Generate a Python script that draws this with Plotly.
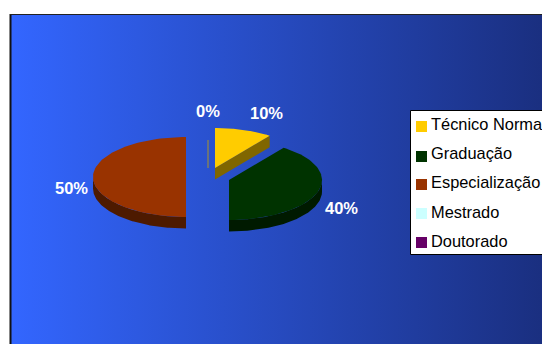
import numpy as np
import plotly.graph_objects as go

# Survey shares per qualification level
categories = ["Técnico Normal", "Graduação", "Especialização", "Mestrado", "Doutorado"]
values = [10, 40, 50, 0, 0]
top_colors = ["#FFCC00", "#003300", "#993300", "#CCFFFF", "#660066"]
wall_colors = ["#806600", "#001A00", "#4D1A00", "#7F7F60", "#7F7F60"]

# Drawing is laid out in canvas pixels
WIDTH, HEIGHT = 542, 344
RX, RY, DEPTH = 93, 40, 11.5
centers = [(215, 168), (229, 180), (186, 177), (208, 168), (208, 168)]
label_pos = [(266, 113), (341, 208), (71, 188), (208, 111), None]
ZERO_STUB = 0.7  # radial length of an empty slice, as a share of the radius


def rim(cx, cy, start, end, n=80):
    """Points on the tilted rim, with angles clockwise from twelve o'clock."""
    t = np.radians(np.linspace(start, end, n))
    return cx + RX * np.sin(t), cy - RY * np.cos(t)


def closed(xs, ys):
    return list(xs) + [xs[0]], list(ys) + [ys[0]]


fig = go.Figure()

# Chart area with its left-to-right blue ramp
fig.add_trace(go.Scatter(
    x=[11, WIDTH, WIDTH, 11, 11], y=[15, 15, HEIGHT, HEIGHT, 15],
    mode="lines", line=dict(width=0), fill="toself",
    fillgradient=dict(type="horizontal",
                      colorscale=[[0, "#3366FF"], [1, "#1A2F80"]]),
    hoverinfo="skip", showlegend=False,
))

total = sum(values)
angle = 0.0
for name, value, top, wall, (cx, cy) in zip(categories, values, top_colors, wall_colors, centers):
    start, end = angle, angle + 360 * value / total
    angle = end

    if value == 0:
        fig.add_trace(go.Scatter(
            x=[cx, cx + RX * np.sin(np.radians(start)) * ZERO_STUB],
            y=[cy, cy - RY * np.cos(np.radians(start)) * ZERO_STUB],
            mode="lines", line=dict(color=wall, width=1),
            hoverinfo="skip", showlegend=False,
        ))
        continue

    # Outer wall on the part of the rim that faces the viewer
    lo, hi = max(start, 90), min(end, 270)
    if lo < hi:
        ax, ay = rim(cx, cy, lo, hi)
        xs, ys = closed(np.r_[ax, ax[::-1]], np.r_[ay, ay[::-1] + DEPTH])
        fig.add_trace(go.Scatter(x=xs, y=ys, mode="lines", line=dict(width=0),
                                 fill="toself", fillcolor=wall,
                                 hoverinfo="skip", showlegend=False))

    # Cut face on the slice's closing edge when it turns toward the viewer
    if 0 < end < 180:
        ex, ey = rim(cx, cy, end, end, 1)
        xs, ys = closed([cx, ex[0], ex[0], cx], [cy, ey[0], ey[0] + DEPTH, cy + DEPTH])
        fig.add_trace(go.Scatter(x=xs, y=ys, mode="lines", line=dict(width=0),
                                 fill="toself", fillcolor=wall,
                                 hoverinfo="skip", showlegend=False))

    # Top face
    ax, ay = rim(cx, cy, start, end)
    xs, ys = closed(np.r_[cx, ax], np.r_[cy, ay])
    fig.add_trace(go.Scatter(x=xs, y=ys, mode="lines", line=dict(width=0),
                             fill="toself", fillcolor=top, name=name,
                             hoverinfo="skip", showlegend=False))

# Percentage labels
annotations = []
for value, pos in zip(values, label_pos):
    if pos is None:
        continue
    annotations.append(dict(
        x=pos[0], y=pos[1], text=f"<b>{round(100 * value / total)}%</b>", showarrow=False,
        font=dict(family="Liberation Sans", size=16.5, color="white"),
        xanchor="center", yanchor="middle",
    ))

# Legend box, swatches and entries
LEG_LEFT, LEG_TOP, LEG_BOTTOM = 410.5, 110.5, 254.5
row_y = [124, 153, 182, 212, 241]
swatch_top = [121, 151, 179, 208, 237]
shapes = [
    dict(type="rect", x0=LEG_LEFT, x1=WIDTH + 5, y0=LEG_TOP, y1=LEG_BOTTOM,
         fillcolor="white", line=dict(color="black", width=1), layer="above"),
    dict(type="line", x0=10.5, x1=10.5, y0=14, y1=HEIGHT,
         line=dict(color="#111111", width=2), layer="above"),
    dict(type="line", x0=10, x1=WIDTH, y0=14.5, y1=14.5,
         line=dict(color="#222222", width=1), layer="above"),
]
for name, color, y, sw in zip(categories, top_colors, row_y, swatch_top):
    shapes.append(dict(type="rect", x0=416, x1=427, y0=sw, y1=sw + 11,
                       fillcolor=color, line=dict(width=0), layer="above"))
    annotations.append(dict(
        x=429, y=y, text=name, showarrow=False, xanchor="left", yanchor="middle",
        font=dict(family="Liberation Sans", size=16.4, color="black"),
    ))

fig.update_layout(
    width=WIDTH, height=HEIGHT,
    margin=dict(l=0, r=0, t=0, b=0),
    paper_bgcolor="white", plot_bgcolor="white",
    showlegend=False,
    xaxis=dict(range=[0, WIDTH], visible=False, fixedrange=True),
    yaxis=dict(range=[HEIGHT, 0], visible=False, fixedrange=True),
    shapes=shapes, annotations=annotations,
)
fig.write_html("out.html", config={"displayModeBar": False})
